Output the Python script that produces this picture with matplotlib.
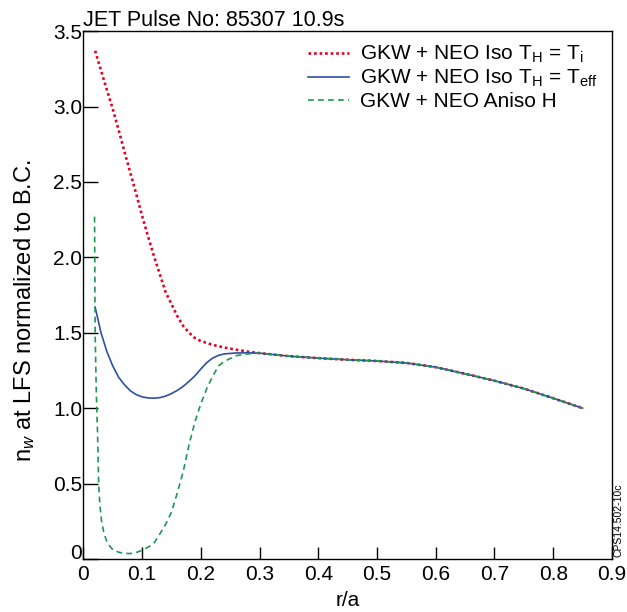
import numpy as np
import matplotlib
matplotlib.use("Agg")
import matplotlib.pyplot as plt

plt.rcParams['font.family'] = ['Liberation Sans', 'DejaVu Sans']
plt.rcParams['mathtext.fontset'] = 'custom'
plt.rcParams['mathtext.rm'] = 'Liberation Sans'
plt.rcParams['mathtext.it'] = 'Liberation Sans:italic'

# shared tail (all three curves coincide for r/a > 0.3)
r_tail = [0.30, 0.35, 0.40, 0.45, 0.50, 0.55, 0.60, 0.65, 0.70, 0.75, 0.80, 0.85]
n_tail = [1.365, 1.345, 1.332, 1.321, 1.313, 1.300, 1.272, 1.228, 1.182, 1.130, 1.066, 1.0]

# GKW + NEO Iso TH = Ti
r_ti = [0.02, 0.03, 0.04, 0.05, 0.06, 0.07, 0.08, 0.09, 0.10, 0.11, 0.12, 0.13,
        0.14, 0.15, 0.16, 0.17, 0.18, 0.19, 0.20, 0.22, 0.24, 0.26, 0.28]
n_ti = [3.37, 3.24, 3.11, 2.985, 2.845, 2.70, 2.56, 2.42, 2.275, 2.14, 2.01, 1.89,
        1.77, 1.69, 1.61, 1.545, 1.50, 1.465, 1.445, 1.42, 1.402, 1.388, 1.375]

# GKW + NEO Iso TH = Teff
r_eff = [0.02, 0.03, 0.04, 0.05, 0.06, 0.07, 0.08, 0.09, 0.10, 0.11, 0.12, 0.13,
         0.14, 0.15, 0.16, 0.17, 0.18, 0.19, 0.20, 0.21, 0.22, 0.23, 0.24, 0.26, 0.28]
n_eff = [1.67, 1.50, 1.375, 1.28, 1.205, 1.155, 1.115, 1.09, 1.075, 1.068, 1.066, 1.07,
         1.08, 1.097, 1.118, 1.145, 1.178, 1.215, 1.26, 1.302, 1.332, 1.35, 1.36, 1.366, 1.367]

# GKW + NEO Aniso H
r_an = [0.019, 0.020, 0.022, 0.024, 0.026, 0.028, 0.031, 0.035, 0.04, 0.045, 0.05, 0.06,
        0.07, 0.08, 0.09, 0.10, 0.11, 0.12, 0.13, 0.14, 0.15, 0.16, 0.17, 0.18, 0.19,
        0.20, 0.21, 0.22, 0.23, 0.24, 0.25, 0.26, 0.28]
n_an = [2.27, 1.50, 1.10, 0.85, 0.50, 0.36, 0.25, 0.17, 0.115, 0.085, 0.062, 0.045,
        0.037, 0.036, 0.043, 0.058, 0.078, 0.105, 0.165, 0.23, 0.31, 0.44, 0.58, 0.76, 0.91,
        1.03, 1.13, 1.21, 1.28, 1.31, 1.33, 1.348, 1.36]

fig = plt.figure(figsize=(6.27, 6.12), dpi=100)
ax = fig.add_axes([0.133, 0.0866, 0.843, 0.8625])

ax.plot(r_ti + r_tail, n_ti + n_tail, color='#e8001e', linewidth=1.9,
        linestyle=(0, (1, 1.1)), label=r'GKW + NEO Iso T$_\mathrm{H}$ = T$_\mathrm{i}$')
ax.plot(r_eff + r_tail, n_eff + n_tail, color='#2f4fa5', linewidth=1.2,
        label=r'GKW + NEO Iso T$_\mathrm{H}$ = T$_\mathrm{eff}$')
ax.plot(r_an + r_tail, n_an + n_tail, color='#1a9a4c', linewidth=1.2,
        dashes=(3.5, 2.5), label='GKW + NEO Aniso H')

ax.set_xlim(0, 0.9)
ax.set_ylim(0, 3.5)
ax.set_xticks(np.arange(0, 0.91, 0.1))
ax.set_xticklabels(['0', '0.1', '0.2', '0.3', '0.4', '0.5', '0.6', '0.7', '0.8', '0.9'])
ax.set_yticks(np.arange(0, 3.51, 0.5))
ax.set_yticklabels(['0', '0.5', '1.0', '1.5', '2.0', '2.5', '3.0', '3.5'])
ax.tick_params(axis='x', direction='in', length=9, width=1.0, labelsize=15, pad=4)
ax.tick_params(axis='y', direction='in', length=11, width=1.0, labelsize=15, pad=1)
ax.get_yticklabels()[0].set_verticalalignment('baseline')
for s in ax.spines.values():
    s.set_linewidth(1.0)

ax.set_xlabel('r/a', fontsize=15, labelpad=5)
ax.set_ylabel(r'n$_w$ at LFS normalized to B.C.', fontsize=17)
ax.yaxis.set_label_coords(-0.088, 0.47)
ax.set_title('JET Pulse No: 85307 10.9s', loc='left', fontsize=15.5, pad=0)

ax.legend(loc='upper left', bbox_to_anchor=(0.425, 0.976), frameon=False,
          fontsize=15, handlelength=1.95, handletextpad=0.55, labelspacing=0.14,
          borderpad=0, borderaxespad=0)

fig.text(0.987, 0.15, 'CPS14.502-10c', rotation=90, fontsize=7.5, ha='center', va='center')

fig.savefig('out.png', dpi=100)
